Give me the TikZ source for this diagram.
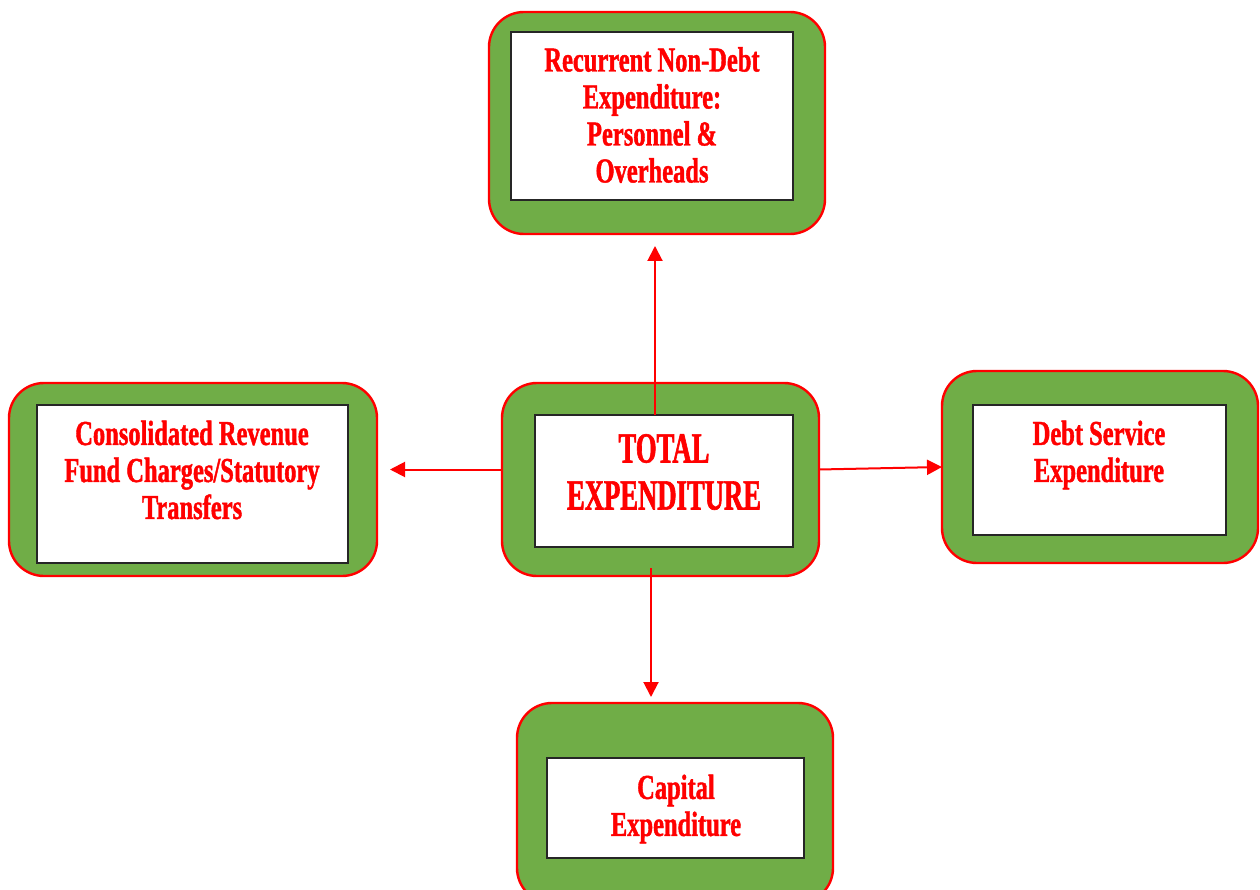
\documentclass[tikz,border=0pt]{standalone}
\usepackage{fontspec}
\usetikzlibrary{arrows.meta}
\newfontfamily\lbl{Liberation Serif}[FakeStretch=0.7,FakeBold=1.2]
\newfontfamily\lblc{Liberation Serif}[FakeStretch=0.62,FakeBold=1.4]
\definecolor{boxgreen}{HTML}{70AD47}
\definecolor{boxred}{HTML}{FF0000}
\tikzset{
  outerbox/.style={draw=boxred, fill=boxgreen, line width=2.4pt, rounded corners=35pt, inner sep=0pt, outer sep=0pt},
  innerbox/.style={draw=black!85, fill=white, line width=1.2pt, inner sep=0pt, outer sep=0pt},
  lbltext/.style={text=boxred, align=center, inner sep=0pt, font=\lbl\bfseries\fontsize{35}{37}\selectfont},
  lblbig/.style={text=boxred, align=center, inner sep=0pt, font=\lblc\bfseries\fontsize{43}{47}\selectfont},
  arr/.style={draw=boxred, line width=2pt, -{Triangle[length=15pt,width=15pt]}}
}
\begin{document}
\begin{tikzpicture}[x=1pt,y=-1pt]
\clip (0,0) rectangle (1260,890);
\fill[white] (0,0) rectangle (1260,890);
% outer boxes
\node[outerbox, minimum width=336pt, minimum height=222pt] (to) at (657,123) {};
\node[outerbox, minimum width=317pt, minimum height=193pt] (co) at (660.5,479.5) {};
\node[outerbox, minimum width=368pt, minimum height=193pt] (lo) at (193,479.5) {};
\node[outerbox, minimum width=316pt, minimum height=192pt] (ro) at (1100,467) {};
\node[outerbox, minimum width=316pt, minimum height=200pt] (bo) at (675,803) {};
% inner boxes
\node[innerbox, minimum width=282pt, minimum height=168pt] (ti) at (652,116) {};
\node[innerbox, minimum width=258pt, minimum height=132pt] (ci) at (664,481) {};
\node[innerbox, minimum width=311pt, minimum height=158pt] (li) at (192.5,484) {};
\node[innerbox, minimum width=253pt, minimum height=130pt] (ri) at (1099.5,470) {};
\node[innerbox, minimum width=257pt, minimum height=100pt] (bi) at (675.5,808) {};
% labels
\node[lbltext] (tl) at (652,115) {Recurrent Non-Debt\\Expenditure:\\Personnel \&\\Overheads};
\node[lblbig] (cl) at (664,472) {TOTAL\\EXPENDITURE};
\node[lbltext] (ll) at (192,470) {Consolidated Revenue\\Fund Charges/Statutory\\Transfers};
\node[lbltext] (rl) at (1099,455) {Debt Service\\Expenditure};
\node[lbltext] (bl) at (676,809) {Capital\\Expenditure};
% connectors
\draw[arr, shorten >=12pt] ([xshift=-2pt]ci.north -| to.south) -- ([xshift=-2pt]to.south);
\draw[arr, shorten >=13pt] ([yshift=10pt]co.west) -- ([yshift=10pt]co.west -| lo.east);
\draw[arr] ([yshift=10pt]co.east) -- (ro.west);
\draw[arr, shorten >=6pt] ([xshift=-9.5pt,yshift=8pt]co.south) -- ([xshift=-9.5pt]co.south |- bo.north);
\end{tikzpicture}
\end{document}
